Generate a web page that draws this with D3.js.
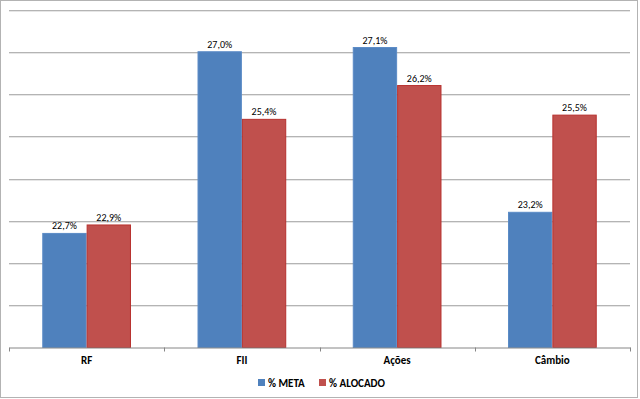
<!DOCTYPE html>
<html><head><meta charset="utf-8">
<script src="https://cdn.jsdelivr.net/npm/d3@7"></script>
<style>body{margin:0;background:#fff}svg{display:block}text{font-family:Carlito,Calibri,"Open Sans","Liberation Sans",Arial,sans-serif}</style>
</head><body><svg id="c" width="640" height="399"></svg>
<script>
const categories = ["RF", "FII", "Ações", "Câmbio"];
const seriesNames = ["% META", "% ALOCADO"];
const meta = [22.7, 27.0, 27.1, 23.2];
const alocado = [22.9, 25.4, 26.2, 25.5];
const yTicks = [20, 21, 22, 23, 24, 25, 26, 27, 28];
const colors = ["#4F81BD", "#C0504D"];
const strokes = ["#5B8BC6", "#B7312E"];

(function(){
const svg = d3.select("#c");
svg.append("rect").attr("x",0.5).attr("y",0.5).attr("width",637).attr("height",397)
  .attr("fill","#fff").attr("stroke","#b3b3b3").attr("stroke-width",1);

const pLeft = 9, pRight = 630, pTop = 9.5, pBottom = 347.5;
const x = d3.scaleBand().domain(categories).range([pLeft, pRight]).paddingInner(0).paddingOuter(0);
const y = d3.scaleLinear().domain([20, 28]).range([pBottom, pTop]);
const xs = d3.scaleBand().domain(seriesNames).range([0, x.bandwidth()]).paddingInner(0).paddingOuter(0.75);

svg.append("g").selectAll("line").data(yTicks.slice(1)).join("line")
  .attr("x1", pLeft).attr("x2", pRight)
  .attr("y1", d => Math.round(y(d)) + 0.5).attr("y2", d => Math.round(y(d)) + 0.5)
  .attr("stroke", "#b4b4b4").attr("stroke-width", 1);
svg.append("g").selectAll("line").data(yTicks.slice(1)).join("line")
  .attr("x1", pLeft).attr("x2", pRight)
  .attr("y1", d => Math.round(y(d)) + 1.5).attr("y2", d => Math.round(y(d)) + 1.5)
  .attr("stroke", "#e6e6e6").attr("stroke-width", 1);

const data = categories.map((c, i) => ({cat: c, vals: [meta[i], alocado[i]]}));
const g = svg.append("g").selectAll("g").data(data).join("g")
  .attr("transform", d => `translate(${x(d.cat)},0)`);
g.selectAll("rect").data(d => d.vals.map((v, j) => ({v, s: seriesNames[j], j}))).join("rect")
  .attr("x", d => xs(d.s) + 0.5).attr("width", xs.bandwidth() - 1)
  .attr("y", d => y(d.v)).attr("height", d => pBottom - y(d.v))
  .attr("fill", d => colors[d.j]).attr("stroke", d => strokes[d.j]).attr("stroke-width", 1);
g.selectAll("text.v").data(d => d.vals.map((v, j) => ({v, s: seriesNames[j], j}))).join("text")
  .attr("class","v")
  .attr("x", d => xs(d.s) + xs.bandwidth()/2).attr("y", d => y(d.v) - 4)
  .attr("text-anchor","middle").attr("font-size","10px").attr("fill","#000")
  .text(d => d.v.toFixed(1).replace(".", ",") + "%");

const xAxis = d3.axisBottom(x).tickSize(0).tickSizeOuter(0);
const ax = svg.append("g").attr("transform", `translate(0,${pBottom})`).call(xAxis);
ax.select(".domain").attr("stroke","#868686");
ax.selectAll("text").attr("font-size","11px").attr("font-weight","bold").attr("fill","#000").attr("dy","1.2em");
const bounds = categories.map(c => x(c)).concat([pRight]);
svg.append("g").selectAll("line").data(bounds).join("line")
  .attr("x1", d => Math.round(d)+0.5).attr("x2", d => Math.round(d)+0.5)
  .attr("y1", pBottom).attr("y2", pBottom + 4)
  .attr("stroke","#868686");

const legend = svg.append("g").attr("transform","translate(258,383)");
const items = [{n: seriesNames[0], x: 0}, {n: seriesNames[1], x: 61}];
items.forEach((it, i) => {
  legend.append("rect").attr("x", it.x).attr("y", -4).attr("width", 7).attr("height", 7).attr("fill", colors[i]);
  legend.append("text").attr("x", it.x + 10).attr("y", 0).attr("dy","0.35em")
    .attr("font-size","11px").attr("font-weight","bold").attr("fill","#000").text(it.n);
});
})();
</script></body></html>
